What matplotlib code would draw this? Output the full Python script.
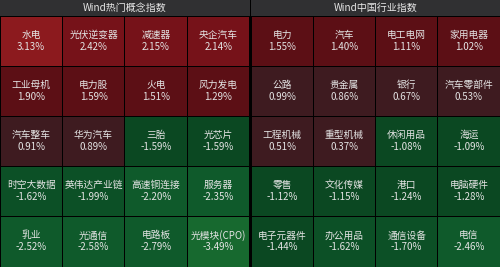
import matplotlib.pyplot as plt
from matplotlib.patches import Rectangle

plt.rcParams['font.family'] = ['Noto Sans CJK SC', 'DejaVu Sans']

# left panel: Wind hot concept indices
left_title = 'Wind热门概念指数'
left_names = ['水电', '光伏逆变器', '减速器', '央企汽车',
              '工业母机', '电力股', '火电', '风力发电',
              '汽车整车', '华为汽车', '三胎', '光芯片',
              '时空大数据', '英伟达产业链', '高速铜连接', '服务器',
              '乳业', '光通信', '电路板', '光模块(CPO)']
left_values = [3.13, 2.42, 2.15, 2.14,
               1.90, 1.59, 1.51, 1.29,
               0.91, 0.89, -1.59, -1.59,
               -1.62, -1.99, -2.20, -2.35,
               -2.52, -2.58, -2.79, -3.49]

# right panel: Wind China industry indices
right_title = 'Wind中国行业指数'
right_names = ['电力', '汽车', '电工电网', '家用电器',
               '公路', '贵金属', '银行', '汽车零部件',
               '工程机械', '重型机械', '休闲用品', '海运',
               '零售', '文化传媒', '港口', '电脑硬件',
               '电子元器件', '办公用品', '通信设备', '电信']
right_values = [1.55, 1.40, 1.11, 1.02,
                0.99, 0.86, 0.67, 0.53,
                0.51, 0.37, -1.08, -1.09,
                -1.12, -1.15, -1.24, -1.28,
                -1.44, -1.62, -1.70, -2.46]


def cell_color(v):
    if v >= 3:
        return '#8c1a1e'
    if v >= 2:
        return '#761219'
    if v >= 1:
        return '#5c0f15'
    if v > 0:
        return '#3e1b20'
    if v <= -3:
        return '#17692f'
    if v <= -2:
        return '#0f5a2b'
    if v <= -1.6:
        return '#0c5026'
    return '#0b4822'


W, H = 500, 267
fig = plt.figure(figsize=(5, 2.67), dpi=100)
fig.patch.set_facecolor('black')
ax = fig.add_axes([0, 0, 1, 1])
ax.set_xlim(0, W)
ax.set_ylim(H, 0)
ax.axis('off')

head_h = 16
ncols, nrows = 4, 5
row_h = (H - head_h) / nrows


def draw_panel(x0, x1, title, names, values):
    ax.add_patch(Rectangle((x0, 0), x1 - x0, head_h - 0.5, facecolor='#303032',
                           edgecolor='none'))
    ax.text((x0 + x1) / 2, head_h / 2, title, color='#e8e8e8', fontsize=7.2,
            ha='center', va='center')
    col_w = (x1 - x0) / ncols
    for i, (name, v) in enumerate(zip(names, values)):
        r, c = divmod(i, ncols)
        cx = x0 + c * col_w
        cy = head_h + r * row_h
        ax.add_patch(Rectangle((cx + 0.5, cy + 0.5), col_w - 1, row_h - 1,
                               facecolor=cell_color(v), edgecolor='none'))
        mx = cx + col_w / 2
        my = cy + row_h / 2
        ax.text(mx, my - 6.5, name, color='#e4e4e4', fontsize=7,
                ha='center', va='center')
        ax.text(mx, my + 5.5, f'{v:.2f}%', color='#e4e4e4', fontsize=7,
                ha='center', va='center')


draw_panel(0, 249.5, left_title, left_names, left_values)
draw_panel(251, 500, right_title, right_names, right_values)

fig.savefig('out.png', dpi=100, facecolor='black')
